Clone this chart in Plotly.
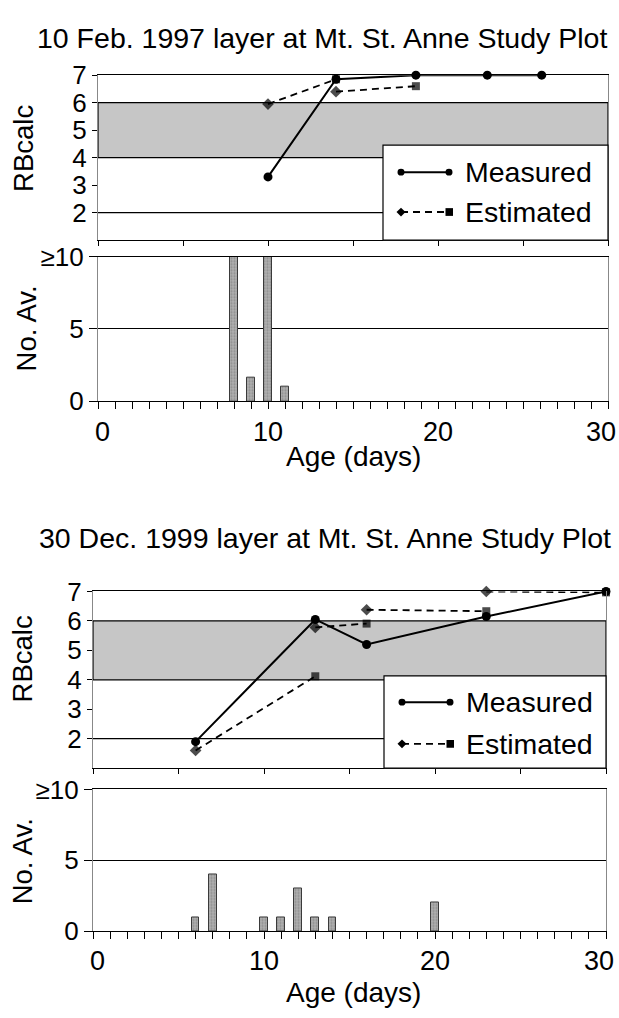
import plotly.graph_objects as go

W, H = 619, 1018

# ---------------- data ----------------
titles = ["10 Feb. 1997 layer at Mt. St. Anne Study Plot",
          "30 Dec. 1999 layer at Mt. St. Anne Study Plot"]
series_names = ["Measured", "Estimated"]

# Chart 1 (10 Feb 1997)
c1_meas_age = [10.0, 14.0, 18.7, 22.9, 26.1]
c1_meas_rb = [3.3, 6.85, 7.0, 7.0, 7.0]
c1_est_start_age = [10.0, 14.0]
c1_est_start_rb = [5.95, 6.4]
c1_est_end_age = [14.0, 18.7]
c1_est_end_rb = [6.85, 6.6]
c1_av_age = [8, 9, 10, 11]
c1_av_count = [10, 1.6, 10, 1]

# Chart 2 (30 Dec 1999)
c2_meas_age = [6, 13, 16, 23, 30]
c2_meas_rb = [1.9, 6.05, 5.2, 6.15, 7.0]
c2_est_start_age = [6, 13, 16, 23]
c2_est_start_rb = [1.6, 5.78, 6.38, 7.0]
c2_est_end_age = [13, 16, 23, 30]
c2_est_end_rb = [4.12, 5.91, 6.33, 6.97]
c2_av_age = [6, 7, 10, 11, 12, 13, 14, 20]
c2_av_count = [1, 4, 1, 1, 3, 1, 1, 2]

rb_ticks = [2, 3, 4, 5, 6, 7]
av_tickvals = [0, 5, 10]
av_ticktext = ["0", "5", "≥10"]
age_ticks = [0, 10, 20, 30]

# ---------------- styling ----------------
FONT = "Liberation Sans, Arial, Helvetica, sans-serif"
FS = 27
BAND = "#c6c6c6"


def px(x):
    return x / W


def py(y):
    return 1 - y / H


fig = go.Figure()


def est_trace(sx, sy, ex, ey, xa, ya):
    xs, ys, syms = [], [], []
    for a, b, c, d in zip(sx, sy, ex, ey):
        xs += [a, c, None]
        ys += [b, d, None]
        syms += ["diamond", "square", "circle"]
    return go.Scatter(x=xs, y=ys, mode="lines+markers", xaxis=xa, yaxis=ya,
                      line=dict(color="black", width=1.8, dash="7px,5px"),
                      marker=dict(symbol=syms, size=[9, 8, 0] * len(sx), color="black",
                                  line=dict(width=0)),
                      cliponaxis=False, showlegend=False, name=series_names[1])


def meas_trace(x, y, xa, ya):
    return go.Scatter(x=x, y=y, mode="lines+markers", xaxis=xa, yaxis=ya,
                      line=dict(color="black", width=2),
                      marker=dict(symbol="circle", size=9, color="black", line=dict(width=0)),
                      cliponaxis=False, showlegend=False, name=series_names[0])


def bar_trace(x, y, xa, ya):
    return go.Bar(x=x, y=y, xaxis=xa, yaxis=ya, width=0.45,
                  marker=dict(color="#b0b0b0", line=dict(color="#3a3a3a", width=1),
                              pattern=dict(shape=".", fgcolor="#6a6a6a", size=3, solidity=0.4)),
                  showlegend=False)


fig.add_trace(est_trace(c1_est_start_age, c1_est_start_rb, c1_est_end_age, c1_est_end_rb, "x", "y"))
fig.add_trace(meas_trace(c1_meas_age, c1_meas_rb, "x", "y"))
fig.add_trace(bar_trace(c1_av_age, c1_av_count, "x2", "y2"))
fig.add_trace(est_trace(c2_est_start_age, c2_est_start_rb, c2_est_end_age, c2_est_end_rb, "x3", "y3"))
fig.add_trace(meas_trace(c2_meas_age, c2_meas_rb, "x3", "y3"))
fig.add_trace(bar_trace(c2_av_age, c2_av_count, "x4", "y4"))

# panel pixel boxes (left, right, top, bottom)
panels = {
    "1": (98, 608, 62, 232),
    "2": (98, 608, 249, 398),
    "3": (93, 606, 594, 776),
    "4": (93, 606, 798, 944),
}

layout = dict(width=W, height=H, margin=dict(l=0, r=0, t=0, b=0),
              paper_bgcolor="white", plot_bgcolor="white",
              font=dict(family=FONT, size=FS, color="black"), bargap=0)

for k, (l, r, t, b) in panels.items():
    xname = "xaxis" if k == "1" else "xaxis" + k
    yname = "yaxis" if k == "1" else "yaxis" + k
    upper = k in ("1", "3")
    xa = dict(domain=[px(l), px(r)], anchor="y" if k == "1" else "y" + k, range=[0, 30],
              showline=True, linecolor="black", linewidth=1.3, mirror=True,
              showgrid=False, zeroline=False, ticks="outside", tickcolor="black",
              showticklabels=False, fixedrange=True)
    if upper:
        xa.update(tickvals=[0, 5, 10, 15, 20, 25, 30], ticklen=5)
    else:
        xa.update(tickvals=list(range(0, 31)), ticklen=7)
    ya = dict(domain=[py(b), py(t)], anchor="x" if k == "1" else "x" + k,
              showline=True, linecolor="#888888", linewidth=1, mirror=True,
              zeroline=False, ticks="outside", tickcolor="black", fixedrange=True)
    if upper:
        ya.update(range=[1, 7], tickvals=rb_ticks, ticklen=5, showgrid=False,
                  tickfont=dict(size=26))
    else:
        ya.update(range=[0, 10], tickvals=av_tickvals, ticktext=av_ticktext, ticklen=8,
                  showgrid=True, gridcolor="black", gridwidth=1.2, tickfont=dict(size=26))
    layout[xname] = xa
    layout[yname] = ya

fig.update_layout(**layout)

shapes = []
# RB band (4..6) and reference lines at 2 in upper panels
for xr, yr in (("x", "y"), ("x3", "y3")):
    shapes.append(dict(type="rect", xref=xr + " domain", yref=yr, x0=0, x1=1, y0=4, y1=6,
                       fillcolor=BAND, line=dict(color="black", width=1.2), layer="below"))
    shapes.append(dict(type="line", xref=xr + " domain", yref=yr, x0=0, x1=1, y0=2, y1=2,
                       line=dict(color="black", width=1.2), layer="below"))

annotations = []

# x tick labels of lower panels placed on the axis scale
for xr, ylab in (("x2", 430), ("x4", 975)):
    for v in age_ticks:
        a = dict(xref=xr, yref="paper", x=v, y=py(ylab), text=str(v), showarrow=False,
                 yanchor="middle", xanchor="center", font=dict(size=27))
        if v == age_ticks[0]:
            a["xshift"] = 4
        if v == age_ticks[-1]:
            a["xanchor"] = "right"
            a["xshift"] = 10
        annotations.append(a)

# manual legends (box + glyphs), pixel positions converted to paper
legends = [
    dict(box=(383, 134, 608, 232), r1=162, r2=203),
    dict(box=(384, 681, 606, 776), r1=708, r2=751),
]
for lg in legends:
    x0, y0, x1, y1 = lg["box"]
    shapes.append(dict(type="rect", xref="paper", yref="paper", x0=px(x0), x1=px(x1),
                       y0=py(y1), y1=py(y0), fillcolor="white",
                       line=dict(color="black", width=1.2), layer="above"))
    r1, r2 = lg["r1"], lg["r2"]
    gx0, gx1 = x0 + 18, x0 + 66
    # Measured glyph
    shapes.append(dict(type="line", xref="paper", yref="paper", x0=px(gx0), x1=px(gx1),
                       y0=py(r1), y1=py(r1), line=dict(color="black", width=2), layer="above"))
    for cx in (gx0, gx1):
        shapes.append(dict(type="circle", xref="paper", yref="paper",
                           x0=px(cx - 3.5), x1=px(cx + 3.5), y0=py(r1 + 3.5), y1=py(r1 - 3.5),
                           fillcolor="black", line=dict(color="black", width=0), layer="above"))
    # Estimated glyph
    shapes.append(dict(type="line", xref="paper", yref="paper", x0=px(gx0), x1=px(gx1),
                       y0=py(r2), y1=py(r2), line=dict(color="black", width=1.8, dash="7px,5px"),
                       layer="above"))
    d = 4.5
    shapes.append(dict(type="path", xref="paper", yref="paper",
                       path=f"M {px(gx0-d)},{py(r2)} L {px(gx0)},{py(r2-d)} L {px(gx0+d)},{py(r2)} L {px(gx0)},{py(r2+d)} Z",
                       fillcolor="black", line=dict(color="black", width=0), layer="above"))
    shapes.append(dict(type="rect", xref="paper", yref="paper",
                       x0=px(gx1 - 3.5), x1=px(gx1 + 4), y0=py(r2 + 4), y1=py(r2 - 4),
                       fillcolor="black", line=dict(color="black", width=0), layer="above"))
    for ry, name in ((r1, series_names[0]), (r2, series_names[1])):
        annotations.append(dict(xref="paper", yref="paper", x=px(x0 + 80), y=py(ry),
                                xanchor="left", yanchor="middle", text=name, showarrow=False,
                                font=dict(size=28.5)))

# titles and axis titles
text_items = [
    (titles[0], 322, 24, 0, 28.5),
    (titles[1], 325, 539, 0, 28.5),
    ("RBcalc", 24, 138, -90, 27.5),
    ("No. Av.", 26, 323, -90, 27.5),
    ("RBcalc", 22, 664, -90, 27.5),
    ("No. Av.", 22, 872, -90, 27.5),
    ("Age (days)", 353, 455, 0, 28),
    ("Age (days)", 353, 1007, 0, 28),
]
for txt, x, y, ang, fs in text_items:
    annotations.append(dict(xref="paper", yref="paper", x=px(x), y=py(y), xanchor="center",
                            yanchor="middle", text=txt, textangle=ang, showarrow=False,
                            font=dict(size=fs)))

fig.update_layout(shapes=shapes, annotations=annotations)
fig.write_html("out.html", config={"displayModeBar": False},
               post_script="document.body.style.margin='0';document.body.style.overflow='hidden';")
